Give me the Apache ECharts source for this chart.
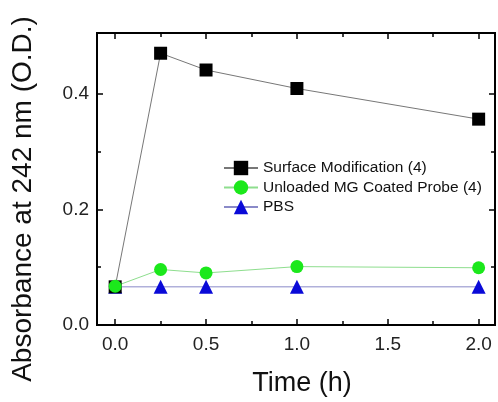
<!DOCTYPE html>
<html>
<head>
<meta charset="utf-8">
<script src="https://cdn.jsdelivr.net/npm/echarts@6/dist/echarts.min.js"></script>
<style>
  html, body { margin: 0; padding: 0; background: #fff; }
  #chart { width: 498px; height: 402px; }
</style>
</head>
<body>
<div id="chart"></div>
<script>
// data
var times = [0, 0.25, 0.5, 1.0, 2.0];
var surfaceMod = [0.066, 0.470, 0.441, 0.409, 0.356];
var unloadedMG = [0.067, 0.096, 0.090, 0.101, 0.099];
var pbs = [0.066, 0.066, 0.066, 0.066, 0.066];

var xMajor = [0, 0.5, 1.0, 1.5, 2.0];
var xMinor = [0.25, 0.75, 1.25, 1.75];
var yMajor = [0, 0.2, 0.4];
var yMinor = [0.1, 0.3];

var fontFam = 'Liberation Sans, Arial, sans-serif';

function pairs(ys) {
    return times.map(function (t, i) { return [t, ys[i]]; });
}

var chart = echarts.init(document.getElementById('chart'));

function xAx(pos, labels, ticks, len) {
    return {
        type: 'value', position: pos, min: -0.1, max: 2.09,
        axisLine: {show: true, onZero: false, lineStyle: {color: '#000', width: 2}},
        axisTick: {show: true, inside: true, length: len, customValues: ticks,
                   lineStyle: {color: '#000', width: 1.5}},
        axisLabel: {show: labels, customValues: xMajor, color: '#222', fontSize: 19,
                    fontFamily: fontFam, margin: 10,
                    formatter: function (v) { return v.toFixed(1); }},
        splitLine: {show: false}
    };
}

function yAx(pos, labels, ticks, len) {
    return {
        type: 'value', position: pos, min: 0, max: 0.505,
        axisLine: {show: true, onZero: false, lineStyle: {color: '#000', width: 2}},
        axisTick: {show: true, inside: true, length: len, customValues: ticks,
                   lineStyle: {color: '#000', width: 1.5}},
        axisLabel: {show: labels, customValues: yMajor, color: '#222', fontSize: 19,
                    fontFamily: fontFam, margin: 8,
                    formatter: function (v) { return v.toFixed(1); }},
        splitLine: {show: false}
    };
}

var xAxes = [
    xAx('bottom', true, xMajor, 6),
    xAx('bottom', false, xMinor, 4),
    xAx('top', false, xMajor, 6),
    xAx('top', false, xMinor, 4)
];
xAxes[0].name = 'Time (h)';
xAxes[0].nameLocation = 'middle';
xAxes[0].nameGap = 45;
xAxes[0].nameTextStyle = {color: '#111', fontSize: 27, fontFamily: fontFam, padding: [0, 0, 0, 12]};

var yAxes = [
    yAx('left', true, yMajor, 6),
    yAx('left', false, yMinor, 4),
    yAx('right', false, yMajor, 6),
    yAx('right', false, yMinor, 4)
];

var option = {
    animation: false,
    backgroundColor: '#fff',
    grid: {left: 97, right: 3, top: 33, bottom: 74},
    xAxis: xAxes,
    yAxis: yAxes,
    graphic: [{
        type: 'text', x: 23, y: 199, rotation: Math.PI / 2,
        style: {
            text: 'Absorbance at 242 nm (O.D.)', fill: '#111',
            font: '28px ' + fontFam, align: 'center', verticalAlign: 'middle'
        }
    }],
    legend: {
        orient: 'vertical', left: 218, top: 155,
        itemWidth: 34, itemHeight: 18, itemGap: 3.5,
        textStyle: {color: '#111', fontSize: 15.5, fontFamily: fontFam},
        data: ['Surface Modification (4)', 'Unloaded MG Coated Probe (4)', 'PBS']
    },
    series: [
        {
            name: 'PBS', type: 'line', data: pairs(pbs),
            symbol: 'triangle', symbolSize: 14,
            itemStyle: {color: '#0a0ad8'},
            lineStyle: {color: '#8a8ac8', width: 1}
        },
        {
            name: 'Surface Modification (4)', type: 'line', data: pairs(surfaceMod),
            symbol: 'rect', symbolSize: 13,
            itemStyle: {color: '#000'},
            lineStyle: {color: '#777', width: 1}
        },
        {
            name: 'Unloaded MG Coated Probe (4)', type: 'line', data: pairs(unloadedMG),
            symbol: 'circle', symbolSize: 13,
            itemStyle: {color: '#1be81b'},
            lineStyle: {color: '#8ede8e', width: 1}
        }
    ]
};

chart.setOption(option);
</script>
</body>
</html>
